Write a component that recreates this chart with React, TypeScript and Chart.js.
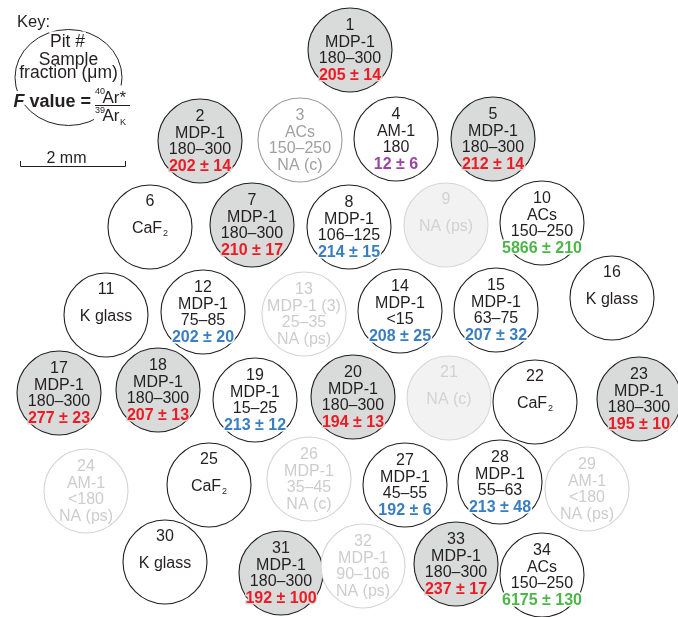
import React, { useEffect, useRef } from "react";
import { Chart, registerables } from "chart.js";

Chart.register(...registerables);

// ---- Pit data (mount coordinates, px-like units of the mount frame) ----
const pitIds = [1, 2, 3, 4, 5, 6, 7, 8, 9, 10, 11, 12, 13, 14, 15, 16, 17, 18, 19, 20, 21, 22, 23, 24, 25, 26, 27, 28, 29, 30, 31, 32, 33, 34];
const pitX = [350, 200, 300, 396, 493, 150, 252, 349, 446, 542, 106, 203, 304, 400, 496, 612, 59, 158, 255, 353, 449, 535, 639, 86, 209, 309, 405, 500, 587, 165, 281, 363, 456, 542];
const pitY = [50, 141, 140, 139, 139, 227, 225, 227, 225, 223, 315, 312, 314, 311, 310, 298, 393, 390, 400, 397, 398, 402, 399, 491, 485, 479, 485, 482, 489, 562, 573, 566, 564, 575];
const pitSample = ["MDP-1", "MDP-1", "ACs", "AM-1", "MDP-1", "CaF2", "MDP-1", "MDP-1", "", "ACs", "K glass", "MDP-1", "MDP-1 (3)", "MDP-1", "MDP-1", "K glass", "MDP-1", "MDP-1", "MDP-1", "MDP-1", "", "CaF2", "MDP-1", "AM-1", "CaF2", "MDP-1", "MDP-1", "MDP-1", "AM-1", "K glass", "MDP-1", "MDP-1", "MDP-1", "ACs"];
const pitFraction = ["180–300", "180–300", "150–250", "180", "180–300", "", "180–300", "106–125", "", "150–250", "", "75–85", "25–35", "<15", "63–75", "", "180–300", "180–300", "15–25", "180–300", "", "", "180–300", "<180", "", "35–45", "45–55", "55–63", "<180", "", "180–300", "90–106", "180–300", "150–250"];
const pitFValue = ["205 ± 14", "202 ± 14", "NA (c)", "12 ± 6", "212 ± 14", "", "210 ± 17", "214 ± 15", "NA (ps)", "5866 ± 210", "", "202 ± 20", "NA (ps)", "208 ± 25", "207 ± 32", "", "277 ± 23", "207 ± 13", "213 ± 12", "194 ± 13", "NA (c)", "", "195 ± 10", "NA (ps)", "", "NA (c)", "192 ± 6", "213 ± 48", "NA (ps)", "", "192 ± 100", "NA (ps)", "237 ± 17", "6175 ± 130"];
const pitStatus = ["coarse", "coarse", "faded", "std", "coarse", "std", "coarse", "std", "empty", "std", "std", "std", "ghost", "std", "std", "std", "coarse", "coarse", "std", "coarse", "empty", "std", "coarse", "ghost", "std", "ghost", "std", "std", "ghost", "std", "coarse", "ghost", "coarse", "std"];
const pitValueColor = ["red", "red", "", "purple", "red", "", "red", "blue", "", "green", "", "blue", "", "blue", "blue", "", "red", "red", "blue", "red", "", "", "red", "", "", "", "blue", "blue", "", "", "red", "", "red", "green"];

// ---- Key ----
const keyTitle = "Key:";
const keyLines = ["Pit #", "Sample", "fraction (μm)"];
const keyCenter = { x: 68.5, y: 77.5 };
const keyRadii = { x: 53.5, y: 48 };
const scaleBarLabel = "2 mm";
const scaleBarFrom = 20;
const scaleBarTo = 125;
const scaleBarY = 166;

const FONT = "'Liberation Sans', Arial, Helvetica, sans-serif";
const INK = "#231f20";
const PIT_R = 42;

const STATUS_STYLE: Record<string, { fill: string; stroke: string; text: string }> = {
  coarse: { fill: "#d9dada", stroke: "#231f20", text: INK },
  std: { fill: "#ffffff", stroke: "#231f20", text: INK },
  faded: { fill: "#ffffff", stroke: "#9c9c9c", text: "#a0a0a0" },
  ghost: { fill: "#ffffff", stroke: "#d4d4d4", text: "#cdcdcd" },
  empty: { fill: "#f2f2f2", stroke: "#d6d6d6", text: "#d2d2d2" },
};
const VALUE_COLORS: Record<string, string> = {
  red: "#ec1c24",
  blue: "#3a7ec2",
  purple: "#9b45a2",
  green: "#4cb748",
};

function drawLabel(ctx: CanvasRenderingContext2D, text: string, cx: number, base: number, color: string) {
  if (text === "CaF2") {
    ctx.font = `16px ${FONT}`;
    const w1 = ctx.measureText("CaF").width;
    ctx.font = `9px ${FONT}`;
    const w2 = ctx.measureText("2").width;
    const start = cx - (w1 + w2 + 1) / 2;
    ctx.textAlign = "left";
    ctx.fillStyle = color;
    ctx.font = `16px ${FONT}`;
    ctx.fillText("CaF", start, base);
    ctx.font = `9px ${FONT}`;
    ctx.fillText("2", start + w1 + 1, base + 3);
    ctx.textAlign = "center";
    return;
  }
  ctx.font = `16px ${FONT}`;
  ctx.fillStyle = color;
  ctx.fillText(text, cx, base);
}

const labelPlugin = {
  id: "pitLabels",
  afterDatasetsDraw(chart: any) {
    const ctx: CanvasRenderingContext2D = chart.ctx;
    const xs = chart.scales.x;
    const ys = chart.scales.y;
    ctx.save();
    ctx.textBaseline = "alphabetic";
    ctx.textAlign = "center";
    ctx.lineJoin = "round";

    // pits
    const meta = chart.getDatasetMeta(0);
    meta.data.forEach((el: any, i: number) => {
      const st = STATUS_STYLE[pitStatus[i]];
      const cx = el.x;
      const cy = el.y;
      const lines: { t: string; kind: string }[] = [{ t: String(pitIds[i]), kind: "id" }];
      if (pitSample[i]) lines.push({ t: pitSample[i], kind: "sample" });
      if (pitFraction[i]) lines.push({ t: pitFraction[i], kind: "fraction" });
      if (pitFValue[i]) lines.push({ t: pitFValue[i], kind: "value" });
      const offs = lines.length === 4 ? [-20, -3.5, 13, 29.5] : lines.length === 2 ? [-21, 6] : [-15, 2, 19];
      lines.forEach((ln, k) => {
        const base = cy + offs[k];
        if (ln.kind === "value" && pitValueColor[i]) {
          ctx.font = `bold 16px ${FONT}`;
          ctx.strokeStyle = st.fill;
          ctx.lineWidth = 3;
          ctx.strokeText(ln.t, cx, base);
          ctx.fillStyle = VALUE_COLORS[pitValueColor[i]];
          ctx.fillText(ln.t, cx, base);
        } else {
          drawLabel(ctx, ln.t, cx, base, st.text);
        }
      });
    });

    // key outline (slightly elliptical, as drawn in the figure)
    const kx = xs.getPixelForValue(keyCenter.x);
    const ky = ys.getPixelForValue(keyCenter.y);
    const rx = xs.getPixelForValue(keyCenter.x + keyRadii.x) - kx;
    const ry = ys.getPixelForValue(keyCenter.y + keyRadii.y) - ky;
    ctx.strokeStyle = INK;
    ctx.lineWidth = 1;
    ctx.beginPath();
    ctx.ellipse(kx, ky, rx, ry, 0, 0, Math.PI * 2);
    ctx.stroke();

    ctx.fillStyle = INK;
    ctx.textAlign = "left";
    ctx.font = `16.5px ${FONT}`;
    ctx.fillText(keyTitle, kx - 51.5, ky - 50.5);

    ctx.textAlign = "center";
    ctx.font = `17.5px ${FONT}`;
    ctx.strokeStyle = "#ffffff";
    ctx.lineWidth = 5;
    ctx.strokeText(keyLines[0], kx - 1, ky - 30.5);
    ctx.fillText(keyLines[0], kx - 1, ky - 30.5);
    ctx.fillText(keyLines[1], kx, ky - 12.5);
    ctx.fillText(keyLines[2], kx, ky + 0.5);

    // F value = 40Ar*/39ArK
    const fb = ky + 29;
    ctx.textAlign = "left";
    ctx.font = `italic bold 18px ${FONT}`;
    const fx = kx - 55;
    const wF = ctx.measureText("F").width;
    ctx.lineWidth = 6;
    ctx.strokeText("F", fx, fb);
    ctx.fillText("F", fx, fb);
    ctx.font = `bold 18px ${FONT}`;
    ctx.strokeText(" value =", fx + wF, fb);
    ctx.fillText(" value =", fx + wF, fb);

    const fracL = kx + 26.5;
    const fracR = kx + 61.5;
    ctx.fillStyle = "#ffffff";
    ctx.fillRect(fracL - 1, ky + 8, fracR - fracL + 2, 44);
    ctx.fillStyle = INK;
    ctx.font = `9px ${FONT}`;
    ctx.fillText("40", fracL, ky + 16.5);
    ctx.fillText("39", fracL, ky + 35);
    ctx.font = `17px ${FONT}`;
    ctx.fillText("Ar*", fracL + 7.5, ky + 25);
    ctx.fillText("Ar", fracL + 7.5, ky + 43);
    const wAr = ctx.measureText("Ar").width;
    ctx.font = `9px ${FONT}`;
    ctx.fillText("K", fracL + 7.5 + wAr + 0.5, ky + 47);
    ctx.strokeStyle = INK;
    ctx.lineWidth = 1;
    ctx.beginPath();
    ctx.moveTo(fracL, ky + 28);
    ctx.lineTo(fracR, ky + 28);
    ctx.stroke();

    // scale bar
    const sx0 = xs.getPixelForValue(scaleBarFrom);
    const sx1 = xs.getPixelForValue(scaleBarTo);
    const sy = ys.getPixelForValue(scaleBarY);
    ctx.strokeStyle = INK;
    ctx.lineWidth = 1;
    ctx.beginPath();
    ctx.moveTo(sx0 + 0.5, sy - 5);
    ctx.lineTo(sx0 + 0.5, sy + 0.5);
    ctx.lineTo(sx1 + 0.5, sy + 0.5);
    ctx.lineTo(sx1 + 0.5, sy - 5);
    ctx.stroke();
    ctx.textAlign = "center";
    ctx.fillStyle = INK;
    ctx.font = `16px ${FONT}`;
    ctx.fillText(scaleBarLabel, (sx0 + sx1) / 2 - 6, sy - 3.5);

    ctx.restore();
  },
};

export default function App() {
  const ref = useRef<HTMLCanvasElement>(null);
  useEffect(() => {
    document.body.style.margin = "0";
    const canvas = ref.current;
    if (!canvas) return;
    const chart = new Chart(canvas, {
      type: "scatter",
      data: {
        datasets: [
          {
            label: "pits",
            data: pitIds.map((_, i) => ({ x: pitX[i], y: pitY[i] })),
            pointRadius: PIT_R,
            pointHoverRadius: PIT_R,
            pointBackgroundColor: (c: any) => STATUS_STYLE[pitStatus[c.dataIndex]]?.fill ?? "#fff",
            pointBorderColor: (c: any) => STATUS_STYLE[pitStatus[c.dataIndex]]?.stroke ?? INK,
            pointBorderWidth: 1.1,
            clip: false,
          },
        ],
      },
      options: {
        responsive: false,
        animation: false,
        events: [],
        layout: { padding: 0, autoPadding: false },
        scales: {
          x: { type: "linear", min: 0, max: 678, display: false },
          y: { type: "linear", min: 0, max: 617, reverse: true, display: false },
        },
        plugins: { legend: { display: false }, tooltip: { enabled: false } },
      },
      plugins: [labelPlugin],
    } as any);
    return () => chart.destroy();
  }, []);
  return <canvas ref={ref} width={678} height={617} style={{ display: "block" }} />;
}
